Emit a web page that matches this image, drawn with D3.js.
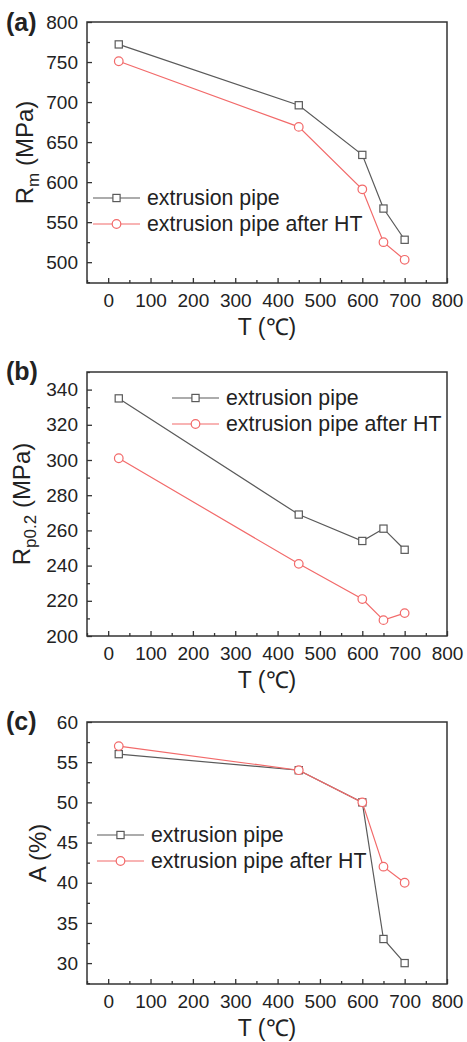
<!DOCTYPE html>
<html lang="en">
<head>
<meta charset="utf-8">
<title>Tensile properties vs temperature</title>
<script src="https://d3js.org/d3.v7.min.js"></script>
<style>
  body { margin: 0; background: #fff; }
  text { font-family: "Liberation Sans", Arial, sans-serif; fill: #222; }
</style>
</head>
<body>
<script>
// temperatures (C) shared by all three panels
var temps = [25, 450, 600, 650, 700];

// (a) tensile strength Rm (MPa)
var rmPipe = [772, 696, 634, 567, 528];
var rmPipeHT = [751, 669, 591, 525, 503];

// (b) yield strength Rp0.2 (MPa)
var rpPipe = [335, 269, 254, 261, 249];
var rpPipeHT = [301, 241, 221, 209, 213];

// (c) elongation A (%)
var aPipe = [56, 54, 50, 33, 30];
var aPipeHT = [57, 54, 50, 42, 40];

var seriesNames = ["extrusion pipe", "extrusion pipe after HT"];
var xTicks = [0, 100, 200, 300, 400, 500, 600, 700, 800];
var rmTicks = [500, 550, 600, 650, 700, 750, 800];
var rpTicks = [200, 220, 240, 260, 280, 300, 320, 340];
var aTicks = [30, 35, 40, 45, 50, 55, 60];

var W = 467, H = 1042;
var svg = d3.select("body").append("svg")
    .attr("width", W)
    .attr("height", H);

var colors = ["#5a5a5a", "#f26a6a"];

//layout for each panel
var panels = [
    {tag: "(a)", top: 22, bottom: 283, yDomain: [474, 800], ticks: rmTicks, minor: 25,
     series: [rmPipe, rmPipeHT], title: "R", sub: "m", tail: " (MPa)", titleX: 25,
     legX: 6, legY: 176, tagY: 31},
    {tag: "(b)", top: 372, bottom: 636, yDomain: [200, 350], ticks: rpTicks, minor: 10,
     series: [rpPipe, rpPipeHT], title: "R", sub: "p0.2", tail: " (MPa)", titleX: 22,
     legX: 85, legY: 26, tagY: 380},
    {tag: "(c)", top: 722, bottom: 984, yDomain: [27.4, 60], ticks: aTicks, minor: 2.5,
     series: [aPipe, aPipeHT], title: "A (%)", sub: null, tail: "", titleX: 38,
     legX: 10, legY: 113, tagY: 730}
];

var left = 87, right = 447;

panels.forEach(function(p) {
    var x = d3.scaleLinear().domain([-50, 800]).range([left, right]);
    var y = d3.scaleLinear().domain(p.yDomain).range([p.bottom, p.top]);

    var g = svg.append("g");

    // minor ticks
    var xMinor = d3.range(-50, 801, 50).filter(function(v) { return xTicks.indexOf(v) < 0; });
    var yMinor = d3.range(p.ticks[0] - p.minor, p.yDomain[1] + 0.01, p.minor)
        .filter(function(v) { return v > p.yDomain[0] && p.ticks.indexOf(v) < 0; });

    // x axis with inward ticks
    var xAxis = g.append("g")
        .attr("transform", "translate(0," + p.bottom + ")")
        .call(d3.axisBottom(x).tickValues(xTicks).tickSizeInner(-5).tickSizeOuter(0).tickPadding(10));
    xAxis.selectAll("text").attr("font-size", "19px").attr("dy", "0.75em");
    g.append("g")
        .attr("transform", "translate(0," + p.bottom + ")")
        .call(d3.axisBottom(x).tickValues(xMinor).tickSizeInner(-3).tickSizeOuter(0).tickFormat(""))
        .select(".domain").remove();

    var yAxis = g.append("g")
        .attr("transform", "translate(" + left + ",0)")
        .call(d3.axisLeft(y).tickValues(p.ticks).tickSizeInner(-5).tickSizeOuter(0).tickPadding(9));
    yAxis.selectAll("text").attr("font-size", "19px");
    g.append("g")
        .attr("transform", "translate(" + left + ",0)")
        .call(d3.axisLeft(y).tickValues(yMinor).tickSizeInner(-3).tickSizeOuter(0).tickFormat(""))
        .select(".domain").remove();

    g.selectAll(".tick line").attr("stroke", "#333").attr("stroke-width", 1.3);
    g.selectAll(".domain").remove();

    // frame
    g.append("rect")
        .attr("x", left).attr("y", p.top)
        .attr("width", right - left).attr("height", p.bottom - p.top)
        .attr("fill", "none").attr("stroke", "#333").attr("stroke-width", 1.5);

    // series
    p.series.forEach(function(vals, si) {
        var pts = temps.map(function(t, i) { return [t, vals[i]]; });
        g.append("path")
            .datum(pts)
            .attr("fill", "none")
            .attr("stroke", colors[si])
            .attr("stroke-width", 1.2)
            .attr("d", d3.line().x(function(d) { return x(d[0]); }).y(function(d) { return y(d[1]); }));
        drawMarkers(g, pts.map(function(d) { return [x(d[0]), y(d[1])]; }), si);
    });

    // legend
    var lx = left + p.legX, ly = p.top + p.legY;
    seriesNames.forEach(function(name, si) {
        var ry = ly + si * 26;
        g.append("line")
            .attr("x1", lx).attr("x2", lx + 47)
            .attr("y1", ry).attr("y2", ry)
            .attr("stroke", colors[si]).attr("stroke-width", 1.2);
        drawMarkers(g, [[lx + 23.5, ry]], si);
        g.append("text")
            .attr("x", lx + 54).attr("y", ry)
            .attr("dy", "0.35em")
            .attr("font-size", "21.3px")
            .text(name);
    });

    // panel tag
    svg.append("text")
        .attr("x", 6).attr("y", p.tagY)
        .attr("font-size", "25px")
        .attr("font-weight", "bold")
        .text(p.tag);

    // y title
    var cy = (p.top + p.bottom) / 2;
    var yt = svg.append("text")
        .attr("transform", "translate(" + p.titleX + "," + cy + ") rotate(-90)")
        .attr("text-anchor", "middle")
        .attr("dy", "0.35em")
        .attr("font-size", "24px");
    yt.append("tspan").text(p.title);
    if (p.sub) {
        yt.append("tspan").attr("font-size", "17px").attr("dy", "6").text(p.sub);
        yt.append("tspan").attr("dy", "-6").text(p.tail);
    }

    // x title
    svg.append("text")
        .attr("x", (left + right) / 2)
        .attr("y", p.bottom + 52)
        .attr("text-anchor", "middle")
        .attr("font-size", "23px")
        .text("T (\u2103)");
});

function drawMarkers(g, pts, si) {
    if (si == 0) {
        g.selectAll(null).data(pts).enter().append("rect")
            .attr("x", function(d) { return d[0] - 3.6; })
            .attr("y", function(d) { return d[1] - 3.6; })
            .attr("width", 7.2).attr("height", 7.2)
            .attr("fill", "#fff")
            .attr("stroke", colors[0]).attr("stroke-width", 1.2);
    } else {
        g.selectAll(null).data(pts).enter().append("circle")
            .attr("cx", function(d) { return d[0]; })
            .attr("cy", function(d) { return d[1]; })
            .attr("r", 4.3)
            .attr("fill", "#fff")
            .attr("stroke", colors[1]).attr("stroke-width", 1.2);
    }
}
</script>
</body>
</html>
